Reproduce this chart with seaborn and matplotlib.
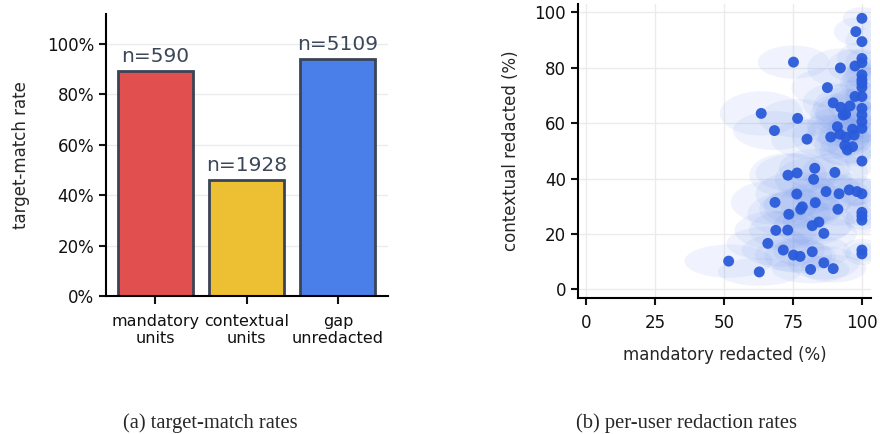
import numpy as np
import pandas as pd
import matplotlib
matplotlib.use("Agg")
import matplotlib.pyplot as plt
import seaborn as sns
from matplotlib.patches import Ellipse
from matplotlib.ticker import PercentFormatter

# ================== Data ==================
categories = ["mandatory\nunits", "contextual\nunits", "gap\nunredacted"]
rates = [0.894, 0.459, 0.940]
counts = [590, 1928, 5109]
bar_colors = ["#E14F4F", "#EDBF33", "#4A7FE9"]

mand = [100, 97.8, 100, 100, 100, 97.5, 75.2, 92.2, 100, 100,
        100, 100, 87.5, 97.5, 100, 89.6, 92.3, 95.7, 100, 93.2,
        94.1, 63.5, 76.7, 100, 100, 100, 68.3, 91.1, 96.6, 92.0,
        88.7, 94.2, 97.2, 80.1, 93.8, 96.6, 94.7, 100, 82.9, 73.2,
        76.5, 90.2, 82.5, 95.4, 98.2, 100, 87.0, 91.7, 76.4, 68.5,
        83.1, 78.4, 77.8, 91.3, 100, 100, 100, 73.5, 68.8, 73.1,
        84.4, 82.0, 86.2, 65.9, 71.5, 75.2, 77.6, 82.0, 100, 100,
        51.7, 86.2, 81.4, 89.6, 62.8]
ctx = [97.8, 93.0, 89.4, 83.3, 81.8, 80.6, 82.0, 79.9, 77.4, 75.6,
       74.4, 72.9, 72.8, 69.6, 69.6, 67.3, 65.7, 66.2, 65.3, 62.9,
       63.2, 63.5, 61.7, 62.9, 60.5, 58.1, 57.3, 58.7, 57.8, 56.0,
       55.0, 54.9, 55.7, 54.2, 51.9, 51.5, 50.3, 46.3, 43.7, 41.2,
       42.0, 42.2, 39.7, 35.9, 35.3, 34.5, 35.3, 34.5, 34.4, 31.4,
       31.3, 29.8, 28.9, 28.9, 27.8, 26.5, 25.0, 27.1, 21.3, 21.4,
       24.3, 23.0, 20.2, 16.6, 14.2, 12.4, 11.9, 13.6, 14.2, 12.8,
       10.2, 9.6, 7.2, 7.5, 6.3]
# spread ellipse sizes (width along x, height along y), per user
ell_w = [14, 16, 12, 18, 12, 20, 26, 24, 12, 14,
         16, 12, 26, 18, 12, 22, 20, 16, 14, 24,
         22, 30, 28, 12, 14, 16, 30, 22, 18, 24,
         28, 20, 16, 26, 22, 18, 20, 12, 26, 28,
         30, 24, 28, 20, 16, 14, 26, 22, 30, 32,
         26, 28, 30, 22, 12, 14, 12, 30, 30, 28,
         26, 28, 24, 30, 30, 28, 26, 28, 14, 12,
         32, 26, 28, 24, 30]
ell_h = [8, 10, 10, 12, 10, 12, 12, 14, 10, 12,
         12, 10, 14, 12, 10, 14, 14, 12, 10, 16,
         14, 16, 14, 10, 12, 10, 14, 14, 12, 14,
         16, 14, 12, 14, 14, 12, 12, 10, 14, 16,
         14, 14, 16, 12, 10, 10, 14, 12, 16, 16,
         14, 14, 14, 12, 10, 10, 10, 16, 14, 14,
         14, 14, 12, 12, 12, 12, 12, 12, 8, 8,
         12, 12, 10, 10, 10]

# ================== Style ==================
sns.set_theme(style="ticks")
plt.rcParams['font.family'] = ['DejaVu Sans']
plt.rcParams['axes.edgecolor'] = 'black'
plt.rcParams['axes.linewidth'] = 1.5
plt.rcParams['xtick.major.width'] = 1.5
plt.rcParams['ytick.major.width'] = 1.5
plt.rcParams['xtick.color'] = '#111111'
plt.rcParams['ytick.color'] = '#111111'

fig = plt.figure(figsize=(8.8, 4.34), dpi=100)
ax1 = fig.add_axes([0.1205, 0.318, 0.3205, 0.650])
ax2 = fig.add_axes([0.6565, 0.314, 0.3333, 0.677])

# ================== Plot (a): target-match rates ==================
bar_df = pd.DataFrame({"cat": categories, "rate": rates})
sns.barplot(data=bar_df, x="cat", y="rate", hue="cat", palette=bar_colors,
            saturation=1, edgecolor="#3A4455", linewidth=2, width=0.82,
            legend=False, ax=ax1)
for i, (r, n) in enumerate(zip(rates, counts)):
    ax1.text(i, r + 0.02, f"n={n}", ha="center", va="bottom",
             fontsize=14.5, color="#3B4759")
ax1.set_ylim(0, 1.12)
ax1.set_xlim(-0.54, 2.55)
ax1.set_yticks(np.arange(0, 1.01, 0.2))
ax1.yaxis.set_major_formatter(PercentFormatter(1.0, decimals=0))
ax1.set_xlabel("")
ax1.set_ylabel("target-match rate", fontsize=12, labelpad=12)
ax1.tick_params(axis='y', labelsize=12, length=5)
ax1.tick_params(axis='x', labelsize=11.5, length=6, pad=7)
ax1.grid(axis='y', color='#EBEBEB', linewidth=1)
ax1.set_axisbelow(True)
sns.despine(ax=ax1)

# ================== Plot (b): per-user redaction rates ==================
for x, y, w, h in zip(mand, ctx, ell_w, ell_h):
    ax2.add_patch(Ellipse((x, y), w, h, facecolor="#6E93EC", edgecolor="none",
                          alpha=0.1, zorder=1))
sns.scatterplot(x=mand, y=ctx, color="#2A5BDA", s=62, edgecolor="none",
                alpha=0.95, zorder=3, ax=ax2)
ax2.set_xlim(-3, 103.3)
ax2.set_ylim(-3, 103)
ax2.set_xticks([0, 25, 50, 75, 100])
ax2.set_yticks([0, 20, 40, 60, 80, 100])
ax2.set_xlabel("mandatory redacted (%)", fontsize=12, labelpad=10)
ax2.set_ylabel("contextual redacted (%)", fontsize=12, labelpad=10)
ax2.tick_params(labelsize=12, length=5)
ax2.tick_params(axis='x', pad=7)
ax2.grid(color='#EBEBEB', linewidth=1)
ax2.set_axisbelow(True)
sns.despine(ax=ax2)

# ================== Captions ==================
fig.text(210 / 880, 1 - 423 / 434, "(a) target-match rates", ha="center",
         va="center", fontsize=14.8, family="Liberation Serif")
fig.text(687 / 880, 1 - 423 / 434, "(b) per-user redaction rates", ha="center",
         va="center", fontsize=14.8, family="Liberation Serif")

fig.savefig("out.png", dpi=100)
